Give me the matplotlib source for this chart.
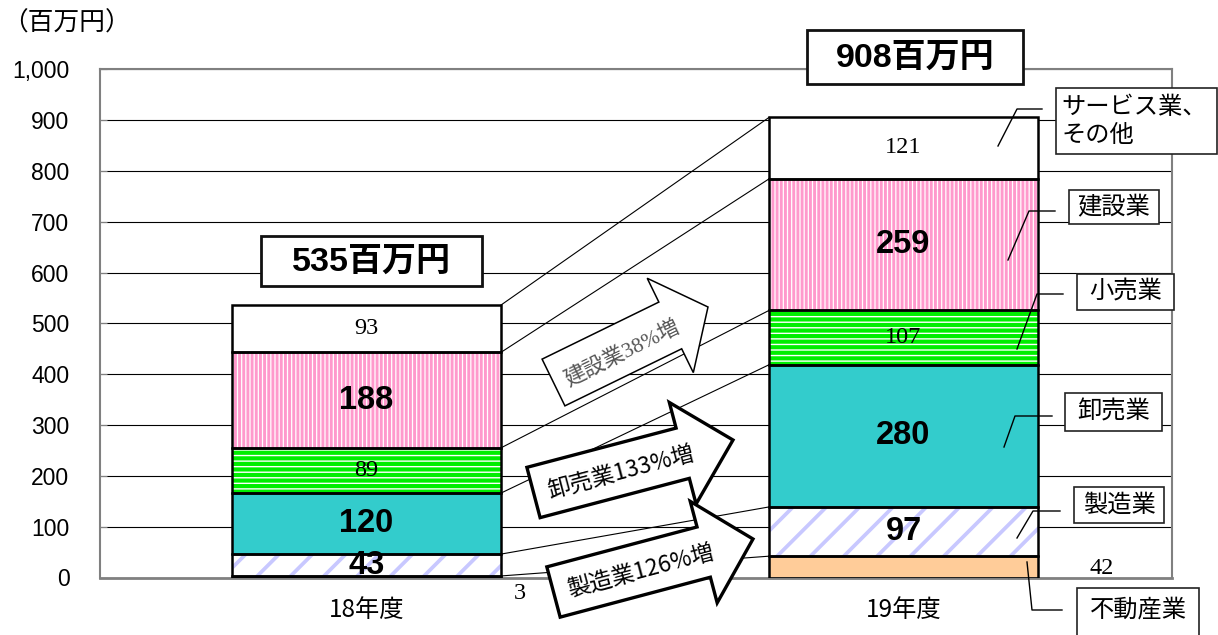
import numpy as np
import matplotlib
matplotlib.use("Agg")
import matplotlib.pyplot as plt
from matplotlib import font_manager
from matplotlib.patches import Rectangle, Polygon

# ---- data -------------------------------------------------------------
years = ["18年度", "19年度"]
industries = ["不動産業", "製造業", "卸売業", "小売業", "建設業", "サービス業、\nその他"]
fy18 = [3, 43, 120, 89, 188, 93]
fy19 = [42, 97, 280, 107, 259, 121]
total_labels = ["535百万円", "908百万円"]
growth_labels = ["建設業38%増", "卸売業133%増", "製造業126%増"]
yticks = [0, 100, 200, 300, 400, 500, 600, 700, 800, 900, 1000]
ytick_labels = ["0", "100", "200", "300", "400", "500", "600", "700", "800", "900", "1,000"]
unit_label = "（百万円）"

# ---- fonts ------------------------------------------------------------
installed = {f.name for f in font_manager.fontManager.ttflist}
JP = "Noto Sans CJK JP"
NUM_BOLD = "Liberation Sans Narrow" if "Liberation Sans Narrow" in installed else "Liberation Sans"
NUM_BOLD_SIZE = 26 if NUM_BOLD == "Liberation Sans Narrow" else 23.5
SERIF = ["Liberation Serif", JP]
plt.rcParams["font.family"] = [JP, "DejaVu Sans"]

# per-industry fill style: face, hatch, hatch colour, hatch width, bold label
styles = [
    dict(face="#FFCC99", hatch=None, hc="#FFCC99", hlw=1.0, bold=False),
    dict(face="white", hatch="/", hc="#C8C8FF", hlw=2.7, bold=True),
    dict(face="#33CCCC", hatch=None, hc="#33CCCC", hlw=1.0, bold=True),
    dict(face="white", hatch="---", hc="#00EE00", hlw=3.0, bold=False),
    dict(face="white", hatch="||||", hc="#FF99CC", hlw=2.1, bold=True),
    dict(face="white", hatch=None, hc="white", hlw=1.0, bold=False),
]

W, H = 1218, 635
fig = plt.figure(figsize=(W / 100, H / 100), dpi=100)
ax = fig.add_axes([100 / W, 57.5 / H, 1072 / W, 508 / H])

x = np.arange(len(years))
bw = 0.5
series = np.array([fy18, fy19]).T          # rows = industries, cols = years
bottoms = np.vstack([np.zeros(2), np.cumsum(series, axis=0)[:-1]])
tops = np.cumsum(series, axis=0)

for i, st in enumerate(styles):
    with plt.rc_context({"hatch.linewidth": st["hlw"]}):
        bars = ax.bar(x, series[i], bw, bottom=bottoms[i], color=st["face"],
                      edgecolor=st["hc"], hatch=st["hatch"], linewidth=0, zorder=2)
    for p in bars:
        if hasattr(p, "set_hatch_linewidth"):
            p.set_hatch_linewidth(st["hlw"])
    ax.bar(x, series[i], bw, bottom=bottoms[i], fill=False,
           edgecolor="black", linewidth=1.8, zorder=3)

# value labels
for i, st in enumerate(styles):
    for j in range(len(years)):
        v = series[i, j]
        yc = bottoms[i, j] + v / 2
        if i == 0:
            if j == 0:
                ax.annotate(str(v), (x[j] + bw / 2, 0), xytext=(19, -16),
                            textcoords="offset pixels", ha="center", va="center",
                            family=SERIF, fontsize=17.5, annotation_clip=False)
            else:
                ax.annotate(str(v), (x[j] + bw / 2, yc), xytext=(64, -2),
                            textcoords="offset pixels", ha="center", va="center",
                            family=SERIF, fontsize=17.5, annotation_clip=False)
            continue
        if st["bold"]:
            ax.text(x[j], yc, str(v), ha="center", va="center", family=NUM_BOLD,
                    fontweight="bold", fontsize=NUM_BOLD_SIZE, zorder=4)
        else:
            ax.text(x[j], yc, str(v), ha="center", va="center", family=SERIF,
                    fontsize=17.5, zorder=4)

# segment-top connectors between the two years
for i in range(len(industries)):
    ax.plot([x[0] + bw / 2, x[1] - bw / 2], [tops[i, 0], tops[i, 1]],
            color="black", lw=0.8, zorder=1.5, clip_on=False)

ax.set_xlim(-0.4963, 1.5)
ax.set_ylim(0, 1000)
ax.set_yticks(yticks)
ax.set_yticklabels(ytick_labels, family="Liberation Sans", fontsize=16.5)
ax.set_xticks(x)
ax.set_xticklabels(years, fontsize=17.5)
ax.tick_params(axis="y", direction="in", length=5, color="#808080", pad=22)
ax.tick_params(axis="x", length=0, pad=14)
ax.yaxis.grid(True, color="black", lw=0.8)
ax.set_axisbelow(True)
for s in ["left", "top", "right"]:
    ax.spines[s].set_color("#808080")
    ax.spines[s].set_linewidth(1.5)
ax.spines["bottom"].set_color("#808080")
ax.spines["bottom"].set_linewidth(2.0)

# ---- annotation layer in pixel units ----------------------------------
ov = fig.add_axes([0, 0, 1, 1], zorder=5)
ov.set_xlim(0, W)
ov.set_ylim(H, 0)
ov.axis("off")

ov.text(2, 24, unit_label, ha="left", va="center", fontsize=18.5)

# total boxes
for (bx0, by0, bx1, by1), lab in zip([(261, 236, 482, 286), (807, 30, 1023, 84)], total_labels):
    ov.add_patch(Rectangle((bx0, by0), bx1 - bx0, by1 - by0, facecolor="white",
                           edgecolor="#111111", lw=2.0))
    ov.text((bx0 + bx1) / 2, (by0 + by1) / 2 + 1, lab, ha="center", va="center",
            family=["Liberation Sans", JP], fontweight="bold", fontsize=24.5)


def block_arrow(tail, tip, body_w, head_w, head_len, lw):
    tail = np.asarray(tail, float)
    tip = np.asarray(tip, float)
    d = tip - tail
    u = d / np.hypot(*d)
    n = np.array([-u[1], u[0]])
    base = tip - u * head_len
    pts = [tail + n * body_w / 2, base + n * body_w / 2, base + n * head_w / 2, tip,
           base - n * head_w / 2, base - n * body_w / 2, tail - n * body_w / 2]
    ov.add_patch(Polygon(pts, closed=True, facecolor="white", edgecolor="black",
                         lw=lw, joinstyle="miter"))
    return np.degrees(np.arctan2(tail[1] - tip[1], tip[0] - tail[0]))


arrows = [
    dict(tail=(553.5, 382.5), tip=(708, 307), hl=42, lw=1.1, tc=(622, 353),
         fam=SERIF, color="#555555", size=15.5),
    dict(tail=(533.5, 492.5), tip=(733, 440), hl=52, lw=2.4, tc=(621, 472),
         fam=[JP], color="black", size=16.5),
    dict(tail=(553.5, 592), tip=(753, 539), hl=51, lw=2.4, tc=(641, 571),
         fam=[JP], color="black", size=16.5),
]
for a, lab in zip(arrows, growth_labels):
    ang = block_arrow(a["tail"], a["tip"], 52, 105, a["hl"], a["lw"])
    ov.text(a["tc"][0], a["tc"][1], lab, rotation=ang, rotation_mode="anchor",
            ha="center", va="center", family=a["fam"], color=a["color"],
            fontsize=a["size"])

# industry legend boxes with leader lines
legend_boxes = [
    (1077, 588, 1199, 645),   # 不動産業
    (1074, 487, 1164, 523),   # 製造業
    (1065, 393, 1162, 431),   # 卸売業
    (1077, 274, 1174, 310),   # 小売業
    (1069, 190, 1159, 224),   # 建設業
    (1056, 88, 1217, 154),    # サービス業、その他
]
leaders = [
    [(1027, 562), (1032, 610), (1062, 610)],
    [(1017, 538), (1033, 511), (1060, 511)],
    [(1004, 447), (1015, 416), (1052, 416)],
    [(1017, 349), (1037, 294), (1063, 294)],
    [(1008, 260), (1029, 211), (1055, 211)],
    [(998, 146), (1017, 109), (1042, 109)],
]
for name, (bx0, by0, bx1, by1), pts in zip(industries, legend_boxes, leaders):
    px, py = zip(*pts)
    ov.plot(px, py, color="black", lw=1.0)
    ov.add_patch(Rectangle((bx0, by0), bx1 - bx0, by1 - by0, facecolor="white",
                           edgecolor="#222222", lw=1.2))
    if "\n" in name:
        ov.text(bx0 + 5, (by0 + by1) / 2, name, ha="left", va="center",
                fontsize=17.5, linespacing=1.15)
    else:
        yc = (by0 + by1) / 2 if by1 < H else 610
        ov.text((bx0 + bx1) / 2, yc, name, ha="center", va="center", fontsize=17.5)

fig.savefig("out.png", dpi=100)
